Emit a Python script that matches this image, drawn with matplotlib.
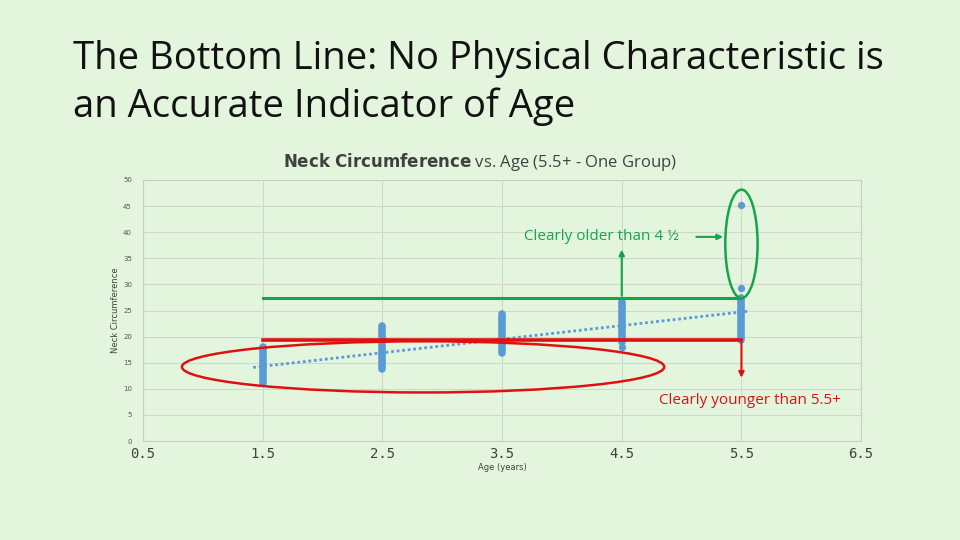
import matplotlib
matplotlib.use("Agg")
import matplotlib.pyplot as plt
from matplotlib.patches import Ellipse

# ---- data ----
ages = [1.5, 2.5, 3.5, 4.5, 5.5]
neck_min = [11.2, 13.7, 16.9, 19.0, 19.3]
neck_max = [18.0, 22.1, 24.4, 26.6, 27.3]
outlier_age = [4.5, 5.5, 5.5]
outlier_val = [18.1, 29.4, 45.2]
trend_x = [1.42, 5.57]
trend_y = [14.1, 24.9]
green_level = 27.3
red_level = 19.4
x_ticks = [0.5, 1.5, 2.5, 3.5, 4.5, 5.5, 6.5]
y_ticks = [0, 5, 10, 15, 20, 25, 30, 35, 40, 45, 50]

BG = "#e3f6dd"
BLUE = "#5b9bd5"
GREEN = "#17a44a"
RED = "#e01010"

fig = plt.figure(figsize=(9.6, 5.4), dpi=100, facecolor=BG)
ax = fig.add_axes([0.149, 0.1833, 0.748, 0.4834])
ax.set_facecolor("none")

ax.set_xlim(0.5, 6.5)
ax.set_ylim(0, 50)
ax.set_xticks(x_ticks)
ax.set_xticklabels([str(t) for t in x_ticks], fontsize=10, color="#404040", family="DejaVu Sans Mono")
ax.set_yticks(y_ticks)
ax.set_yticklabels([str(t) for t in y_ticks], fontsize=5, color="#555555")
ax.tick_params(length=0, pad=4)
ax.tick_params(axis="y", pad=8)
ax.grid(True, color="#cfd6cc", linewidth=0.8)
for s in ax.spines.values():
    s.set_color("#c8cfc5")
    s.set_linewidth(0.8)
ax.set_axisbelow(True)

ax.set_xlabel("Age (years)", fontsize=6, color="#404040", labelpad=2)
ax.set_ylabel("Neck Circumference", fontsize=6, color="#404040", labelpad=2)

# data
ax.vlines(ages, neck_min, neck_max, color=BLUE, linewidth=5.5, capstyle="round", zorder=3)
ax.scatter(outlier_age, outlier_val, color=BLUE, s=18, zorder=3)
ax.plot(trend_x, trend_y, color=BLUE, linestyle=(0, (1, 1)), linewidth=2, zorder=4)

# green annotation
ax.plot([ages[0], ages[-1]], [green_level, green_level], color=GREEN, linewidth=2.2, zorder=5)
ax.annotate("", xy=(4.5, 37.2), xytext=(4.5, green_level),
            arrowprops=dict(arrowstyle="-|>", color=GREEN, lw=1.5, mutation_scale=8), zorder=5)
ax.annotate("", xy=(5.37, 39.1), xytext=(5.10, 39.1),
            arrowprops=dict(arrowstyle="-|>", color=GREEN, lw=1.5, mutation_scale=8), zorder=5)
ax.text(4.33, 39.1, "Clearly older than 4 ½", color=GREEN, fontsize=11,
        family="Open Sans", ha="center", va="center")
ax.add_patch(Ellipse((5.5, 37.75), 0.27, 20.8, fill=False, edgecolor=GREEN, lw=1.8, zorder=5))

# red annotation
ax.plot([ages[0], ages[-1]], [red_level, red_level], color=RED, linewidth=2.6, zorder=5)
ax.annotate("", xy=(5.5, 11.6), xytext=(5.5, red_level),
            arrowprops=dict(arrowstyle="-|>", color=RED, lw=1.5, mutation_scale=8), zorder=5)
ax.text(5.57, 7.7, "Clearly younger than 5.5+", color=RED, fontsize=11,
        family="Open Sans", ha="center", va="center")
ax.add_patch(Ellipse((2.84, 14.2), 4.03, 9.8, fill=False, edgecolor=RED, lw=1.8, zorder=5))

# titles
fig.text(0.076, 0.890, "The Bottom Line: No Physical Characteristic is", fontsize=27.5,
         family="Open Sans", color="#111111", va="center", ha="left")
fig.text(0.076, 0.803, "an Accurate Indicator of Age", fontsize=27.5,
         family="Open Sans", color="#111111", va="center", ha="left")
fig.text(0.5, 0.700, r"$\bf{Neck\ Circumference}$ vs. Age (5.5+ - One Group)", fontsize=12,
         family="Open Sans", color="#404040", ha="center", va="center")

fig.savefig("out.png", dpi=100, facecolor=BG)
